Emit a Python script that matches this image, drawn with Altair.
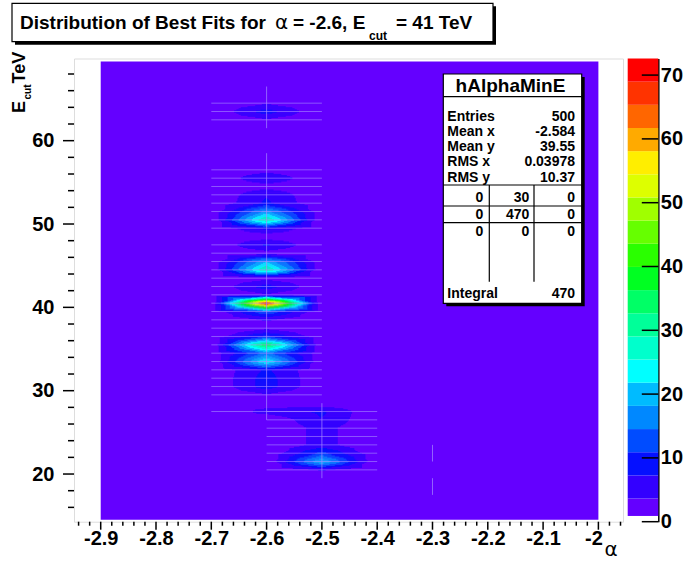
import altair as alt
import numpy as np
import pandas as pd

# ---------------- values ----------------
ALPHA_BINS = [-2.9, -2.8, -2.7, -2.6, -2.5, -2.4, -2.3, -2.2, -2.1, -2.0]
ECUT_FIRST_BIN = 14.5
ECUT_NBINS = 56
ECUT_BIN_WIDTH = 1.0

# non-empty bins, column alpha = -2.6
E_AT_M26 = [27.5, 28.5, 29.5, 30.5, 31.5, 32.5, 33.5, 34.5, 35.5, 36.5, 37.5,
            38.5, 39.5, 40.5, 41.5, 42.5, 43.5, 44.5, 45.5, 46.5, 47.5, 48.5,
            49.5, 50.5, 51.5, 52.5, 53.5, 54.5, 55.5, 56.5, 57.5,
            62.5, 63.5, 64.5, 65.5]
N_AT_M26 = [5, 1, 3, 9, 9, 8, 26, 16, 36, 12, 2,
            4, 14, 70, 3, 9, 2, 30, 22, 2, 8, 1,
            8, 30, 20, 8, 7, 2, 7, 2, 1,
            3, 9, 3, 1]
# column alpha = -2.5
E_AT_M25 = [20.5, 21.5, 22.5, 23.5, 24.5, 25.5, 26.5, 27.5]
N_AT_M25 = [4, 22, 12, 5, 5, 5, 7, 8]
# column alpha = -2.3
E_AT_M23 = [18.5, 22.5]
N_AT_M23 = [1, 1]

Z_MAX = 72.6
N_LEVELS = 20
CBAR_FLOOR = 0.9
PALETTE = ["#6400ff", "#3300ff", "#0510ff", "#004cff", "#0088ff", "#00bbff",
           "#00ffff", "#00ffcc", "#00ff99", "#00ff66", "#00ff22", "#2aff00",
           "#66ff00", "#a0ff00", "#ddff00", "#ffee00", "#ffaa00", "#ff6600",
           "#ff3300", "#ff0000"]

X_TICKS = [-2.9, -2.8, -2.7, -2.6, -2.5, -2.4, -2.3, -2.2, -2.1, -2.0]
Y_TICKS = [20, 30, 40, 50, 60]
Z_TICKS = [0, 10, 20, 30, 40, 50, 60, 70]

TITLE_PARTS = ["Distribution of Best Fits for", "\u03b1", "= -2.6, E", "cut", "= 41 TeV"]
STAT_NAME = "hAlphaMinE"
STAT_LABELS = ["Entries", "Mean x", "Mean y", "RMS x", "RMS y"]
STAT_VALUES = ["500", "-2.584", "39.55", "0.03978", "10.37"]
STAT_GRID = [["0", "30", "0"], ["0", "470", "0"], ["0", "0", "0"]]
STAT_INTEGRAL = ["Integral", "470"]

# ---------------- layout ----------------
OX, OY = 74.0, 58.5
W, H = 549.0, 463.2
XS = alt.Scale(domain=[-2.9483, -1.9555], nice=False, zero=False)
YS = alt.Scale(domain=[14.28, 69.86], nice=False, zero=False)
ZS = alt.Scale(domain=[0, Z_MAX], nice=False, zero=False)
CS = alt.Scale(domain=list(range(N_LEVELS)), range=PALETTE)
FONT = "Liberation Sans"
LABEL_PAD_X = 7

AX_X = alt.Axis(values=X_TICKS, ticks=False, tickSize=0, domain=False, grid=False,
                labelFont=FONT, labelFontWeight="bold", labelFontSize=20,
                labelColor="black", labelPadding=LABEL_PAD_X, labelFlush=False, labelOverlap=False,
                labelExpr="datum.value == -2 ? '' : '-' + format(abs(datum.value), '.1f')")
AX_Y = alt.Axis(values=Y_TICKS, ticks=False, tickSize=0, domain=False, grid=False,
                labelFont=FONT, labelFontWeight="bold", labelFontSize=20,
                labelColor="black", labelPadding=20, labelFlush=False, labelOverlap=False)
AX_Z = alt.Axis(values=Z_TICKS, orient="right", offset=35.3, ticks=False, tickSize=0,
                domain=True, domainColor="black", domainWidth=1.5, grid=False,
                labelFont=FONT, labelFontWeight="bold", labelFontSize=20,
                labelColor="black", labelPadding=2, labelFlush=False, labelOverlap=False)

# ---------------- histogram grid ----------------
nx, ny = len(ALPHA_BINS), ECUT_NBINS
ecut_centres = [ECUT_FIRST_BIN + k * ECUT_BIN_WIDTH for k in range(ny)]
Z = np.zeros((ny, nx))
for xa, es, ns in [(-2.6, E_AT_M26, N_AT_M26), (-2.5, E_AT_M25, N_AT_M25),
                   (-2.3, E_AT_M23, N_AT_M23)]:
    i = int(round((xa - ALPHA_BINS[0]) / 0.1))
    for e, n in zip(es, ns):
        j = int(round((e - ECUT_FIRST_BIN) / ECUT_BIN_WIDTH))
        Z[j, i] = n

# contour fill (cells split into 4 triangles around the cell centre)
dx, dy = 0.1, ECUT_BIN_WIDTH
hx, hy = 0.002, 0.125
xs = ALPHA_BINS[0] + hx / 2 + hx * np.arange(int(round((ALPHA_BINS[-1] - ALPHA_BINS[0]) / hx)))
ys = ecut_centres[0] + hy / 2 + hy * np.arange(int(round((ecut_centres[-1] - ecut_centres[0]) / hy)))
XX, YY = np.meshgrid(xs, ys)
fi = (XX - ALPHA_BINS[0]) / dx
fj = (YY - ecut_centres[0]) / dy
I = np.clip(np.floor(fi).astype(int), 0, nx - 2)
J = np.clip(np.floor(fj).astype(int), 0, ny - 2)
u = fi - I
v = fj - J
z00 = Z[J, I]; z10 = Z[J, I + 1]; z01 = Z[J + 1, I]; z11 = Z[J + 1, I + 1]
zc = (z00 + z10 + z01 + z11) / 4.0
bottom = (v <= u) & (v <= 1 - u)
top = (v >= u) & (v >= 1 - u)
left = (u <= v) & (u <= 1 - v)
val = np.where(bottom, z00 * (1 - u - v) + z10 * (u - v) + zc * 2 * v,
      np.where(top, z01 * (v - u) + z11 * (u + v - 1) + zc * 2 * (1 - v),
      np.where(left, z00 * (1 - u - v) + z01 * (v - u) + zc * 2 * u,
               z10 * (u - v) + z11 * (u + v - 1) + zc * 2 * (1 - u))))
dz = Z_MAX / N_LEVELS
lvl = np.clip(np.floor(val / dz), 0, N_LEVELS - 1).astype(int)

recs = []
for r in range(len(ys)):
    row = lvl[r]
    if row.max() == 0:
        continue
    ch = np.flatnonzero(np.diff(row)) + 1
    starts = np.concatenate([[0], ch])
    ends = np.concatenate([ch, [len(row)]])
    for s, e in zip(starts, ends):
        if row[s] > 0:
            recs.append((round(xs[s] - hx * 0.8, 4), round(xs[e - 1] + hx * 0.8, 4),
                         round(ys[r] - hy * 0.6, 4), round(ys[r] + hy * 0.6, 4), int(row[s])))
cells = pd.DataFrame(recs, columns=["x1", "x2", "y1", "y2", "lvl"])

# seams between fill polygons
hseg, vseg = [], []
for ci, xa in enumerate(ALPHA_BINS):
    spans = []
    for j in range(ny):
        if Z[j, ci] > 0:
            if Z[j, ci] >= 2:
                hseg.append((xa - 0.1, xa + 0.1, ecut_centres[j]))
            spans.append([ecut_centres[j] - 1, ecut_centres[j] + 1])
    merged = []
    for a, b in spans:
        if merged and a <= merged[-1][1]:
            merged[-1][1] = max(merged[-1][1], b)
        else:
            merged.append([a, b])
    for a, b in merged:
        vseg.append((xa, a, b))
hdf = pd.DataFrame(hseg, columns=["x1", "x2", "y"])
vdf = pd.DataFrame(vseg, columns=["x", "y1", "y2"])

SEAM = "#a88cff"
bg = alt.Chart(pd.DataFrame({"x1": [ALPHA_BINS[0]], "x2": [ALPHA_BINS[-1]],
                             "y1": [ecut_centres[0]], "y2": [ecut_centres[-1]]})).mark_rect(
    fill=PALETTE[0]).encode(
    x=alt.X("x1:Q", scale=XS, axis=AX_X, title=None), x2="x2:Q",
    y=alt.Y("y1:Q", scale=YS, axis=AX_Y, title=None), y2="y2:Q")
cont = alt.Chart(cells).mark_rect().encode(
    x=alt.X("x1:Q", scale=XS, axis=AX_X, title=None), x2="x2:Q",
    y=alt.Y("y1:Q", scale=YS, axis=AX_Y, title=None), y2="y2:Q",
    color=alt.Color("lvl:O", scale=CS, legend=None))
hs = alt.Chart(hdf).mark_rule(color=SEAM, strokeWidth=1, opacity=0.6).encode(
    x=alt.X("x1:Q", scale=XS, axis=AX_X, title=None), x2="x2:Q",
    y=alt.Y("y:Q", scale=YS, axis=AX_Y, title=None))
vs = alt.Chart(vdf).mark_rule(color=SEAM, strokeWidth=1, opacity=0.7).encode(
    x=alt.X("x:Q", scale=XS, axis=AX_X, title=None),
    y=alt.Y("y1:Q", scale=YS, axis=AX_Y, title=None), y2="y2:Q")

minor_x = [round(t, 2) for t in np.arange(-2.94, -1.955, 0.02) if min(abs(t - m) for m in X_TICKS) > 1e-6]
minor_y = [t for t in range(16, 70, 2) if t % 10 != 0]
xt_major = alt.Chart(pd.DataFrame({"v": X_TICKS})).mark_rule(color="black", strokeWidth=1.5).encode(
    x=alt.X("v:Q", scale=XS, axis=AX_X, title=None), y=alt.value(H), y2=alt.value(H + 8))
xt_minor = alt.Chart(pd.DataFrame({"v": minor_x})).mark_rule(color="black", strokeWidth=1.5).encode(
    x=alt.X("v:Q", scale=XS, axis=AX_X, title=None), y=alt.value(H), y2=alt.value(H + 4))
yt_major = alt.Chart(pd.DataFrame({"v": Y_TICKS})).mark_rule(color="black", strokeWidth=1.5).encode(
    y=alt.Y("v:Q", scale=YS, axis=AX_Y, title=None), x=alt.value(-11), x2=alt.value(0))
yt_minor = alt.Chart(pd.DataFrame({"v": minor_y})).mark_rule(color="black", strokeWidth=1.5).encode(
    y=alt.Y("v:Q", scale=YS, axis=AX_Y, title=None), x=alt.value(-6), x2=alt.value(0))

main = alt.layer(bg, cont, hs, vs, xt_major, xt_minor, yt_major, yt_minor)

# colour bar
cb = pd.DataFrame({"lo": [max(k * dz, CBAR_FLOOR) for k in range(N_LEVELS)],
                   "hi": [(k + 1) * dz for k in range(N_LEVELS)],
                   "lvl": list(range(N_LEVELS))})
CB_X1, CB_X2 = 627.7 - OX, 658.3 - OX
cbar_r = alt.Chart(cb).mark_rect().encode(
    x=alt.value(CB_X1), x2=alt.value(CB_X2),
    y=alt.Y("lo:Q", scale=ZS, axis=AX_Z, title=None), y2="hi:Q",
    color=alt.Color("lvl:O", scale=CS, legend=None))
cbar_t = alt.Chart(pd.DataFrame({"v": Z_TICKS})).mark_rule(color="black", strokeWidth=1.5).encode(
    y=alt.Y("v:Q", scale=ZS, axis=AX_Z, title=None),
    x=alt.value(CB_X2 - 16.5), x2=alt.value(CB_X2))
cbar = alt.layer(cbar_r, cbar_t)

# ---------------- annotations (canvas pixel positions) ----------------
ONE = pd.DataFrame({"k": [0]})


def P(x):
    return x - OX


def Q(y):
    return y - OY


def text(s, x, y, size, align="left", weight="bold", angle=0, baseline="alphabetic", font=FONT):
    kw = dict(text=s, align=align, baseline=baseline, fontSize=size, fontWeight=weight,
              font=font, color="black")
    if angle:
        kw["angle"] = angle
    return alt.Chart(ONE).mark_text(**kw).encode(x=alt.value(P(x)), y=alt.value(Q(y)))


def box(x1, y1, x2, y2, fill, stroke=False):
    kw = dict(fill=fill)
    if stroke:
        kw.update(stroke="black", strokeWidth=1.2)
    return alt.Chart(ONE).mark_rect(**kw).encode(
        x=alt.value(P(x1)), x2=alt.value(P(x2)), y=alt.value(Q(y1)), y2=alt.value(Q(y2)))


def hline(x1, x2, y, w=1.2):
    return alt.Chart(ONE).mark_rule(color="black", strokeWidth=w).encode(
        x=alt.value(P(x1)), x2=alt.value(P(x2)), y=alt.value(Q(y)))


def vline(x, y1, y2, w=1.2):
    return alt.Chart(ONE).mark_rule(color="black", strokeWidth=w).encode(
        x=alt.value(P(x)), y=alt.value(Q(y1)), y2=alt.value(Q(y2)))


ann = []
# title box
ann += [box(15, 6.3, 496, 44.7, "black"), box(12, 3.3, 493, 41.7, "white", True)]
ann += [text(TITLE_PARTS[0], 20, 29.3, 19),
        text(TITLE_PARTS[1], 275, 29.3, 20, weight="normal", font="DejaVu Sans"),
        text(TITLE_PARTS[2], 293, 29.3, 19),
        text(TITLE_PARTS[3], 369, 39.5, 12),
        text(TITLE_PARTS[4], 396, 29.3, 19)]
# axis titles
ann += [text("E", 25, 113, 18, angle=270),
        text("cut", 31, 99.5, 10, angle=270),
        text("TeV", 25, 83.5, 18, angle=270),
        text("-2", 594, OY + H + LABEL_PAD_X, 20, align="center", baseline="top"),
        text(TITLE_PARTS[1], 611, 556, 20, align="center", weight="normal", font="DejaVu Sans")]
# stats box
SX1, SX2, SY1, SY2 = 443.3, 581.7, 74.0, 303.3
ann += [box(SX1 + 3, SY1 + 3, SX2 + 3, SY2 + 3, "black"), box(SX1, SY1, SX2, SY2, "white", True)]
ann += [text(STAT_NAME, 510.5, 91.7, 19, align="center"), hline(SX1, SX2, 96.7)]
for lab, valtxt, yb in zip(STAT_LABELS, STAT_VALUES, [120.7, 135.9, 151.1, 166.3, 181.5]):
    ann += [text(lab, 447.3, yb, 14), text(valtxt, 575, yb, 14, align="right")]
ann += [hline(SX1, SX2, 185), hline(SX1, SX2, 206), hline(SX1, SX2, 222.7),
        vline(489.3, 185, 281.7), vline(534, 185, 281.7)]
for rowv, yb in zip(STAT_GRID, [201.7, 218.8, 236.0]):
    for cell, xr in zip(rowv, [483.3, 529.3, 575]):
        ann.append(text(cell, xr, yb, 14, align="right"))
ann += [text(STAT_INTEGRAL[0], 447.3, 297.7, 14), text(STAT_INTEGRAL[1], 575, 297.7, 14, align="right")]

chart = alt.layer(main, cbar, *ann).resolve_scale(y="independent").properties(
    width=W, height=H,
    padding={"left": OX, "top": OY, "right": 686 - OX - W, "bottom": 562 - OY - H},
    autosize=alt.AutoSizeParams(type="none"),
).configure_view(stroke="black", strokeWidth=2, fill="white").configure(background="white")

chart.save("out.html", embed_options={"renderer": "svg", "actions": False})
